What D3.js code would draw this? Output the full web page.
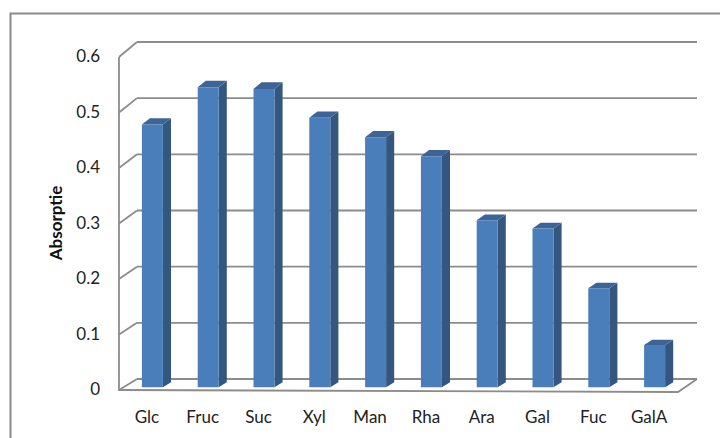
<!DOCTYPE html>
<html><head><meta charset="utf-8">
<script src="https://cdn.jsdelivr.net/npm/d3@7"></script>
<style>body{margin:0;background:#fff}svg{display:block}</style>
</head><body>
<svg id="c" width="720" height="438"></svg>
<script>
const categories = ["Glc","Fruc","Suc","Xyl","Man","Rha","Ara","Gal","Fuc","GalA"];
const values = [0.472,0.539,0.536,0.484,0.449,0.415,0.300,0.285,0.178,0.076];
const yTicks = [0,0.1,0.2,0.3,0.4,0.5,0.6];
const yTickLabels = ["0","0.1","0.2","0.3","0.4","0.5","0.6"];
const yTitle = "Absorptie";

const svg = d3.select("#c");
const font = "Lato, 'Open Sans', sans-serif";
// outer border
svg.append("rect").attr("x",10.5).attr("y",13.5).attr("width",740).attr("height",440)
  .attr("fill","#fff").attr("stroke","#8a8a8a").attr("stroke-width",2);

const x = d3.scaleBand().domain(categories).range([120,678]);
const yF = d3.scaleLinear().domain([0,0.6]).range([390,57]);
const yB = d3.scaleLinear().domain([0,0.6]).range([379,42]);
const DX = 18;
function P(px, v, z){ return [px + z*DX, yF(v)*(1-z) + yB(v)*z]; }

const grid = "#8c8c8c";
yTicks.forEach(v=>{
  const a=P(119,v,0), b=P(119,v,1);
  svg.append("line").attr("x1",a[0]).attr("y1",a[1]).attr("x2",b[0]).attr("y2",b[1])
    .attr("stroke",grid).attr("stroke-width",1.8);
  svg.append("line").attr("x1",b[0]).attr("y1",b[1]).attr("x2",697).attr("y2",b[1])
    .attr("stroke",grid).attr("stroke-width",1.8);
});
svg.append("line").attr("x1",119).attr("y1",yF(0.6)).attr("x2",119).attr("y2",yF(0)+1)
  .attr("stroke",grid).attr("stroke-width",1.8);
svg.append("path").attr("d",`M119,${yF(0)} L678,${yF(0)+2} L697,${yB(0)}`)
  .attr("fill","none").attr("stroke",grid).attr("stroke-width",1.8);

const z0=0.25, z1=0.7, bw=21;
const g = svg.append("g");
categories.forEach((c,i)=>{
  const v = values[i];
  const cx = x(c)+x.bandwidth()/2;
  const l = cx - bw/2, r = cx + bw/2;
  const fl0=P(l,0,z0), fr0=P(r,0,z0), flt=P(l,v,z0), frt=P(r,v,z0);
  const br0=P(r,0,z1), brt=P(r,v,z1), blt=P(l,v,z1);
  g.append("path").attr("d",`M${fr0}L${frt}L${brt}L${br0}Z`).attr("fill","#34577f");
  g.append("path").attr("d",`M${flt}L${frt}L${brt}L${blt}Z`).attr("fill","#3c6497");
  g.append("path").attr("d",`M${fl0}L${flt}L${frt}L${fr0}Z`).attr("fill","#4a7ebb");
});

svg.selectAll(".yt").data(yTicks).enter().append("text")
  .attr("x",100).attr("y",d=>yF(d)+1).attr("text-anchor","end").attr("dominant-baseline","middle")
  .attr("font-family",font).attr("font-size",17).attr("fill","#222")
  .text((d,i)=>yTickLabels[i]);
svg.selectAll(".xt").data(categories).enter().append("text")
  .attr("x",d=>x(d)+x.bandwidth()/2-1).attr("y",419).attr("text-anchor","middle").attr("dominant-baseline","middle")
  .attr("font-family",font).attr("font-size",17).attr("fill","#222").text(d=>d);
svg.append("text").attr("transform","translate(58,223) rotate(-90)")
  .attr("text-anchor","middle").attr("dominant-baseline","middle")
  .attr("font-family",font).attr("font-size",17).attr("font-weight","bold").attr("fill","#111")
  .text(yTitle);
</script>
</body></html>
